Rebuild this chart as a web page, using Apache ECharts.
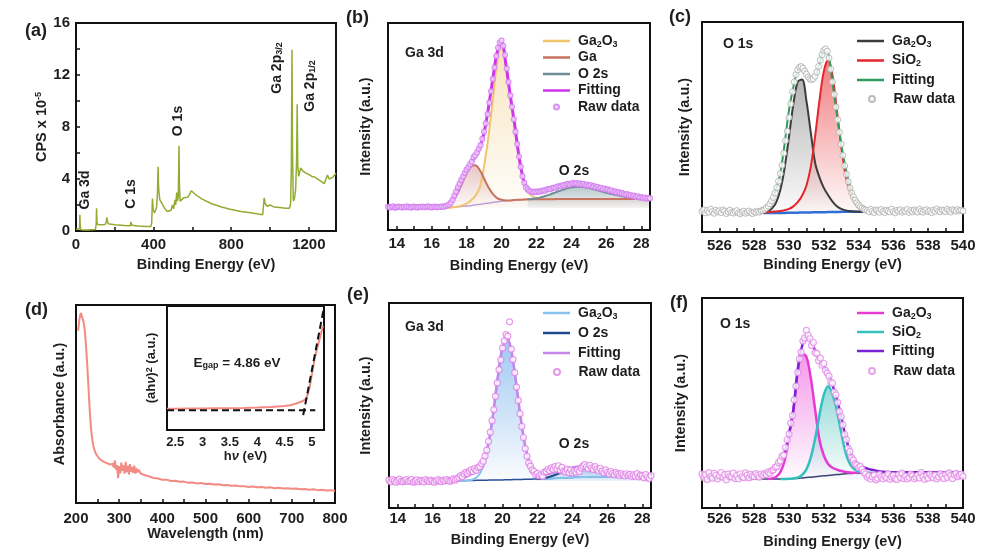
<!DOCTYPE html>
<html>
<head>
<meta charset="utf-8">
<script src="https://cdn.jsdelivr.net/npm/echarts@6/dist/echarts.min.js"></script>
<style>
html, body { margin: 0; padding: 0; background: #fff; }
#chart { width: 1008px; height: 557px; }
</style>
</head>
<body>
<div id="chart"></div>
<script>
// (a) survey spectrum
var aEnergy = [0, 10, 18, 20, 22, 26, 40, 60, 80, 100, 104, 106, 108, 112, 130, 150, 156, 159, 162, 166, 200, 250, 280, 283, 285, 288, 320, 360, 385, 390, 394, 398, 405, 415, 420, 423, 426, 432, 440, 455, 470, 480, 490, 497, 503, 510, 514, 519, 523, 527, 529, 531, 533, 537, 545, 555, 565, 575, 585, 594, 600, 620, 650, 700, 750, 800, 850, 900, 940, 962, 966, 970, 975, 985, 1000, 1020, 1050, 1080, 1100, 1106, 1110, 1113, 1116, 1120, 1126, 1132, 1137, 1140, 1143, 1148, 1152, 1158, 1170, 1185, 1200, 1215, 1230, 1250, 1265, 1280, 1290, 1296, 1300, 1305, 1315, 1325, 1340];
var aCps = [0.15, 0.12, 0.15, 1.25, 0.3, 0.1, 0.08, 0.08, 0.1, 0.12, 0.5, 1.75, 0.7, 0.5, 0.48, 0.5, 0.7, 1.05, 0.75, 0.55, 0.48, 0.42, 0.4, 0.7, 0.85, 0.45, 0.38, 0.35, 0.35, 0.6, 2.5, 1.6, 1.4, 1.8, 3.0, 4.95, 3.2, 2.4, 2.2, 1.8, 1.5, 1.45, 1.6, 2.0, 1.7, 2.4, 2.0, 2.95, 2.3, 2.6, 4.5, 6.55, 3.5, 2.3, 2.45, 2.55, 2.45, 2.6, 2.8, 3.1, 3.0, 2.75, 2.45, 2.1, 1.85, 1.65, 1.5, 1.4, 1.3, 1.25, 1.9, 2.55, 2.1, 1.9, 2.0, 1.85, 1.8, 1.75, 1.75, 2.1, 5.0, 13.95, 6.0, 2.3, 2.5, 3.2, 5.5, 9.75, 5.0, 4.2, 4.5, 4.85, 4.6, 4.45, 4.35, 4.2, 4.15, 3.95, 3.8, 3.65, 3.6, 4.3, 4.35, 4.0, 3.95, 4.15, 4.45];
var aYLabels = [0, 4, 8, 12, 16];
var aYTicks = [0, 2, 4, 6, 8, 10, 12, 14, 16];
var aXLabels = [0, 400, 800, 1200];
var aXTicks = [0, 200, 400, 600, 800, 1000, 1200];

// Ga 3d panels (b, e): fitted curves on 0.25 eV steps from 13.5, raw data on 0.1 eV steps
var gaLabels = [14, 16, 18, 20, 22, 24, 26, 28];
var gaTicks = [14, 15, 16, 17, 18, 19, 20, 21, 22, 23, 24, 25, 26, 27, 28];

var bBackground = [10.6, 10.6, 10.6, 10.6, 10.6, 10.6, 10.6, 10.6, 10.6, 10.6, 10.6, 10.6, 10.6, 10.6,
  10.8, 11.0, 11.2, 11.4, 11.6, 11.8, 12.1, 12.4, 12.7, 13.0, 13.3, 13.6, 13.9, 14.1, 14.3, 14.5, 14.6, 14.7, 14.8,
  14.8, 14.8, 14.9, 14.9, 14.9, 14.9, 15.0, 15.0, 15.0, 15.0, 15.0, 15.0, 15.0, 15.0, 15.0, 15.0, 15.0, 15.0, 15.0, 15.0, 15.0, 15.0, 15.0, 15.0, 15.0, 15.0, 15.0, 15.0];
var bGa2O3 = [10.6, 10.6, 10.6, 10.6, 10.6, 10.6, 10.6, 10.6, 10.6, 10.6, 10.6, 10.6, 10.6, 10.6,
  10.8, 11.0, 11.4, 11.9, 12.8, 14.3, 16.5, 20.5, 31, 45, 63, 81, 90, 79.5, 64.5, 50.5, 35, 24, 18.8,
  16.3, 15.4, 15.1, 15.0, 15.0, 15.0, 15.0, 15.0, 15.0, 15.0, 15.0, 15.0, 15.0, 15.0, 15.0, 15.0, 15.0, 15.0, 15.0, 15.0, 15.0, 15.0, 15.0, 15.0, 15.0, 15.0, 15.0, 15.0];
var bGa = [null, null, null, null, null, null, null, null, null, null, null, null,
  10.8, 11.2, 12.3, 14.5, 18.1, 22.7, 27.4, 30.7, 31.3, 29.0, 24.9, 20.6, 17.4, 15.4, 14.6, 14.3, 14.3, 14.5, 14.6, 14.7, 14.8,
  14.8, 14.8, 14.9, 14.9, 14.9, 14.9, 15.0, 15.0, 15.0, 15.0, 15.0, 15.0, 15.0, 15.0, 15.0, 15.0, 15.0, 15.0, 15.0, 15.0, 15.0, 15.0, 15.0, 15.0, 15.0, 15.0, 15.0, 15.0];
var bO2s = [null, null, null, null, null, null, null, null, null, null, null, null, null, null, null, null,
  null, null, null, null, null, null, null, null, null, null, null, null, null, null, null, null,
  14.8, 15.0, 15.3, 15.8, 16.4, 17.1, 17.9, 18.7, 19.4, 20.1, 20.6, 20.9, 20.9, 20.7, 20.3, 19.8, 19.2, 18.6, 18.0, 17.5, 17.0, 16.6, 16.2, 15.9, 15.6, 15.4, 15.3, 15.2, 15.1];
var bFit = [11.1, 11.1, 11.1, 11.1, 11.1, 11.1, 11.1, 11.1, 11.1, 11.1, 11.1, 11.2, 11.3, 11.6,
  12.3, 15.5, 20.5, 25, 29, 32.3, 35.8, 39.8, 47, 59, 73, 86, 91, 80, 65, 51, 35.5, 24.5, 19.6, 18.5, 18.4, 18.6, 19.1, 19.8, 20.4, 21, 21.5, 21.9, 22.2, 22.3, 22.1, 21.8, 21.4, 21, 20.5, 20, 19.5, 19, 18.5, 18, 17.4, 16.9, 16.5, 16.1, 15.8, 15.5, 15.3];
var bRaw = [11.2, 10.9, 11.1, 11.4, 10.8, 11.0, 11.3, 11.1, 10.9, 11.2,
  11.0, 11.4, 11.1, 10.8, 11.2, 11.3, 11.0, 10.9, 11.2, 11.1,
  11.3, 11.0, 11.2, 11.4, 11.1, 10.9, 11.2, 11.3, 11.0, 11.2,
  11.1, 11.4, 11.2, 11.6, 11.9,
  12.3, 13.2, 14.6, 16.6, 18.5, 20.6, 22.4, 24.2, 25.8, 27.6,
  29.2, 30.4, 31.8, 33.0, 35.2, 36.1, 37.5, 39.2, 41.0, 44.0,
  47.5, 51.5, 56.0, 61.5, 67.0, 73.0, 78.5, 84.0, 88.0, 90.5,
  91.5, 89.0, 84.5, 78.0, 71.5, 65.0, 59.5, 53.5, 47.5, 41.5,
  35.5, 30.5, 26.0, 22.8, 20.6, 19.6, 18.8, 18.6, 18.2, 18.5,
  18.4, 18.7, 18.5, 18.9, 19.2, 19.0, 19.6, 19.8, 19.7, 20.3,
  20.5, 20.4, 21.0, 21.2, 21.1, 21.7, 21.5, 22.0, 22.3, 21.9,
  22.4, 22.8, 22.3, 22.6, 22.1, 22.5, 22.0, 22.3, 21.6, 21.9,
  21.4, 21.7, 21.0, 21.2, 20.6, 20.9, 20.2, 20.4, 19.8, 20.0,
  19.5, 19.6, 19.0, 19.2, 18.6, 18.7, 18.1, 18.3, 17.7, 17.9,
  17.4, 17.1, 17.3, 16.7, 16.9, 16.4, 16.6, 16.0, 16.3, 15.7,
  15.9, 15.4, 15.7, 15.2, 15.5, 15.3];

var eBackground = [13.2, 13.2, 13.2, 13.2, 13.2, 13.2, 13.2, 13.2, 13.2, 13.2, 13.2, 13.2,
  13.2, 13.2, 13.3, 13.3, 13.3, 13.3,
  13.4, 13.4, 13.5, 13.5, 13.5, 13.6, 13.6, 13.7, 13.7, 13.8, 13.8, 13.9, 13.9, 14.0, 14.0, 14.1, 14.1, 14.2, 14.3, 14.4, 14.5, 14.6, 14.7, 14.8, 14.9, 15.0, 15.1, 15.1, 15.2, 15.2, 15.3, 15.3, 15.3, 15.4, 15.4, 15.4, 15.4, 15.4, 15.5, 15.5, 15.5, 15.5, 15.5];
var eGa2O3 = [13.2, 13.2, 13.2, 13.2, 13.2, 13.2, 13.2, 13.2, 13.2, 13.2, 13.2, 13.2,
  13.2, 13.2, 13.3, 13.3, 13.3, 13.3,
  13.5, 13.8, 14.9, 17.5, 23.2, 33.5, 48.3, 65.1, 78.4, 83.1, 76.8, 62.6, 46.0, 31.9, 22.5, 17.6, 15.3, 14.6, 14.4,
  14.4, 14.5, 14.6, 14.7, 14.8, 14.9, 15.0, 15.1, 15.1, 15.2, 15.2, 15.3, 15.3, 15.3, 15.4, 15.4, 15.4, 15.4, 15.4, 15.5, 15.5, 15.5, 15.5, 15.5];
var eO2s = [null, null, null, null, null, null, null, null, null, null, null, null, null, null, null, null, null,
  null, null, null, null, null, null, null, null, null, null, null, null, null, null, null, null, null,
  14.2, 14.4, 14.8, 15.4, 16.1, 16.9, 17.7, 18.4, 19.0, 19.4, 19.6, 19.5, 19.2, 18.7, 18.1, 17.5, 16.9, 16.4, 16.0, 15.7, 15.5, 15.5, 15.5, 15.5, 15.5, 15.5, 15.5];
var eFit = [13.2, 13.2, 13.2, 13.2, 13.2, 13.2, 13.2, 13.2, 13.2, 13.2, 13.2, 13.2, 13.3, 13.3, 13.5, 13.7, 14.0,
  14.6, 15.5, 16.7, 18.2, 20.5, 25.0, 34.0, 48.5, 65.3, 78.6, 83.3, 77.0, 62.9, 46.5, 32.5, 23.3, 18.6, 16.6, 16.1, 16.3, 16.8, 17.4, 18.1, 18.8, 19.4, 19.8, 20.1, 20.2, 20.1, 19.8, 19.3, 18.7, 18.1, 17.5, 17.0, 16.6, 16.2, 15.9, 15.7, 15.6, 15.6, 15.5, 15.5, 15.5];
var eRaw = [13.6, 12.8, 13.9, 13.2, 12.6, 13.5, 14.1, 13.0, 12.7, 13.4,
  13.8, 12.9, 13.3, 14.0, 12.6, 13.1, 13.7, 12.8, 13.5, 13.2,
  12.7, 13.9, 13.4, 12.9, 13.6, 13.0, 12.5, 13.3, 13.8, 13.1,
  12.8, 13.6, 13.2, 13.9, 13.4, 13.0, 13.7, 14.2, 13.6, 14.4,
  14.9, 15.8, 15.2, 16.6, 17.4, 16.8, 17.9, 18.6, 17.8, 19.2,
  18.4, 19.8, 20.2, 21.6, 22.8, 25.4, 28.2, 32.5, 37.0, 42.6,
  48.0, 54.5, 61.0, 67.5, 72.2, 78.0, 81.5, 84.6, 83.8, 90.8,
  77.5, 72.4, 66.0, 59.0, 52.5, 46.0, 39.8, 34.4, 29.0, 25.2,
  22.0, 20.4, 18.6, 17.8, 16.4, 16.9, 15.6, 16.2, 15.4, 17.5,
  17.8, 18.9, 18.2, 19.6, 18.8, 20.2, 19.0, 20.6, 18.4, 19.8,
  18.0, 17.6, 18.8, 17.3, 18.6, 17.2, 18.1, 17.5, 18.7, 17.8,
  19.5, 20.4, 21.2, 20.0, 19.2, 20.8, 19.6, 18.8, 20.2, 19.0,
  18.2, 19.4, 18.0, 17.2, 18.6, 17.4, 16.6, 17.8, 16.9, 16.2,
  17.3, 16.5, 15.8, 16.8, 16.1, 15.6, 16.7, 15.9, 16.4, 15.4,
  16.2, 15.5, 16.8, 15.2, 16.0, 15.6, 14.8, 16.3, 15.0, 14.4, 15.8];

// O 1s panels (c, f): fitted curves on 0.25 eV steps from 525, raw data on 0.1 eV steps
var oLabels = [526, 528, 530, 532, 534, 536, 538, 540];
var oTicks = [526, 527, 528, 529, 530, 531, 532, 533, 534, 535, 536, 537, 538, 539];

var cBackground = [null, null, null, null, null, null, null, null, null, null, null, null, null, null,
  9.0, 9.0, 9.0, 9.1, 9.1, 9.1, 9.2, 9.2, 9.2, 9.3, 9.3, 9.3, 9.4, 9.4, 9.4, 9.5, 9.5, 9.5, 9.6, 9.6, 9.6, 9.7, 9.7, 9.7,
  null, null, null, null, null, null, null, null, null, null, null, null, null, null, null, null, null, null, null, null, null, null, null];
var cGa2O3 = [null, null, null, null, null, null, null, null, null, null, null, null, null, null,
  9.3, 9.7, 11.0, 13.9, 20.0, 30.6, 45.4, 60.9, 71.5, 72.6, 62.5, 47.5, 33, 26, 21, 17.5, 14.5, 12.3, 11.0, 10.3, 10.0, 9.8, 9.7, 9.7,
  null, null, null, null, null, null, null, null, null, null, null, null, null, null, null, null, null, null, null, null, null, null, null];
var cSiO2 = [null, null, null, null, null, null, null, null, null, null, null, null, null, null,
  9.2, 9.4, 9.7, 9.8, 10.0, 10.4, 11.0, 12.2, 14.2, 17.3, 22, 31, 45.5, 62.5, 76.5, 82, 74.5, 58, 41, 27, 19.5, 14.5, 12, 10.8,
  null, null, null, null, null, null, null, null, null, null, null, null, null, null, null, null, null, null, null, null, null, null, null];
var cFit = [9.6, 9.6, 9.6, 9.6, 9.6, 9.6, 9.6, 9.6, 9.6, 9.6, 9.6, 9.6, 9.6,
  9.7, 10.0, 11.5, 14.5, 20, 28, 42, 58, 69, 77, 78, 75.5, 72.8, 73.5, 80, 86.5, 85, 71, 56, 42, 30.5, 22, 16, 12.8, 11.3, 10.5, 10.1,
  10.0, 10.0, 10.0, 10.0, 10.0, 10.0, 10.0, 10.0, 10.0, 10.0, 10.0, 10.0, 10.0, 10.0, 10.0, 10.0, 10.0, 10.0, 10.0, 10.0, 10.0];
var cRaw = [9.8, 10.6, 9.1, 10.2, 9.4, 10.9, 9.7, 8.9, 10.3, 9.6,
  10.1, 9.2, 10.5, 9.9, 8.8, 9.6, 10.4, 9.3, 9.0, 9.8,
  10.2, 9.1, 8.7, 9.5, 9.9, 8.9, 9.4, 10.0, 9.2, 8.8,
  9.6, 9.3, 9.9, 9.5, 10.1,
  10.3, 10.8, 11.4, 12.3, 13.4, 14.8, 16.5, 18.6, 21.2, 24.2,
  27.8, 31.8, 37.5, 43.5, 48.0, 54.5, 61.0, 66.8, 71.5, 75.0,
  77.2, 78.5, 78.8, 78.0, 76.6, 75.2, 73.8, 72.9, 72.6, 73.0,
  74.2, 76.2, 78.8, 81.8, 84.5, 86.5, 87.2, 86.0, 82.8, 77.5,
  71.5, 65.5, 59.5, 53.5, 47.5, 41.8, 36.5, 31.5, 27.5, 24.0,
  21.0, 18.6, 16.8, 15.2, 13.9, 12.8, 12.0, 11.4, 10.9, 10.5,
  10.2, 9.6, 10.8, 9.9, 9.3, 10.5, 10.1, 9.4, 10.7, 9.8,
  9.2, 10.4, 10.0, 9.5, 10.9, 9.7, 9.1, 10.3, 9.9, 10.6,
  9.4, 10.1, 9.8, 10.7, 9.3, 10.2, 9.6, 10.5, 10.0, 9.5,
  10.8, 9.9, 9.4, 10.3, 10.6, 9.7, 10.1, 9.2, 10.4, 9.8,
  10.9, 10.0, 9.6, 10.5, 10.2, 9.7, 10.8, 10.1, 9.5, 10.6,
  10.3, 9.9, 10.7, 10.2, 10.4, 10.0];

var fBackground = [13.8, 13.8, 13.8, 13.8, 13.8, 13.8, 13.8, 13.8, 13.8, 13.8, 13.8, 13.8, 13.8, 13.8, 13.8, 13.8, 13.8, 13.8, 13.8, 13.8,
  13.9, 14.0, 14.1, 14.3, 14.5, 14.7, 14.9, 15.1, 15.3, 15.5, 15.7, 15.9, 16.1, 16.3, 16.4, 16.5, 16.6, 16.7, 16.7,
  16.8, 16.8, 16.8, 16.8, 16.8, 16.8, 16.8, 16.8, 16.8, 16.8, 16.8, 16.8, 16.8, 16.8, 16.8, 16.8, 16.8, 16.8, 16.8, 16.8, 16.8, 16.8];
var fGa2O3 = [null, null, null, null, null, null, null, null, null, null, null, null, null, null, null,
  13.8, 14.0, 14.8, 17.1, 22.6, 35, 47, 64.4, 73.5, 72, 62, 47, 32.5, 25, 21, 19.2, 18.3, 17.6, 17.2, 16.9, 16.8, 16.7,
  null, null, null, null, null, null, null, null, null, null, null, null, null, null, null, null, null, null, null, null, null, null, null, null];
var fSiO2 = [null, null, null, null, null, null, null, null, null, null, null, null, null, null, null, null, null, null,
  13.8, 13.8, 13.9, 14.1, 14.5, 15.7, 18.4, 24.0, 33.0, 44.2, 53.9, 58.0, 54.3, 46.5, 36.0, 26.5, 21.0, 18.5, 17.4, 17.0, 16.8, 16.8,
  null, null, null, null, null, null, null, null, null, null, null, null, null, null, null, null, null, null, null, null, null];
var fFit = [14.8, 14.8, 14.8, 14.8, 14.8, 14.8, 14.8, 14.8, 14.8, 14.8, 14.8, 14.8,
  14.9, 15.0, 15.3, 15.8, 17.0, 18.8, 21.5, 26.5, 35, 46.5, 66, 77, 82, 79.5, 75, 70.5, 67.5, 64, 58.5, 52, 43.5, 34, 27, 22.5, 20.5, 19.5, 18.8, 18.2, 17.8, 17.4, 17.2, 17.1,
  17.0, 17.0, 17.0, 17.0, 17.0, 17.0, 17.0, 17.0, 17.0, 17.0, 17.0, 17.0, 17.0, 17.0, 17.0, 17.0, 17.0];
var fRaw = [16.2, 14.4, 15.8, 13.6, 16.8, 15.1, 14.2, 16.5, 15.6, 13.9,
  15.4, 16.9, 14.6, 15.9, 13.4, 16.1, 15.2, 14.8, 16.6, 14.0,
  15.5, 13.8, 16.3, 15.0, 14.5, 16.7, 15.7, 14.3, 16.0, 15.3,
  14.9, 16.4, 15.6, 14.7, 16.2,
  15.6, 16.4, 15.9, 17.2, 16.6, 17.8, 18.2, 19.4, 19.8, 21.6,
  22.4, 24.6, 25.2, 28.8, 32.5, 35.2, 40.4, 44.0, 51.5, 58.0,
  64.5, 71.0, 74.2, 79.5, 81.0, 84.6, 82.2, 80.6, 77.4, 78.8,
  74.0, 73.6, 70.2, 71.4, 68.0, 68.8, 65.6, 64.2, 62.8, 60.0,
  59.4, 55.2, 53.8, 50.2, 46.0, 43.4, 39.6, 35.0, 32.6, 28.4,
  26.8, 24.0, 22.8, 21.0, 20.4, 19.2, 19.8, 18.4, 17.0, 16.2,
  14.6, 15.4, 13.8, 14.9, 15.8, 13.5, 14.2, 16.0, 14.7, 13.9,
  15.2, 14.4, 16.3, 13.7, 14.8, 15.5, 14.1, 13.6, 15.9, 14.5,
  16.6, 14.0, 15.1, 13.8, 14.6, 16.2, 15.3, 13.9, 14.7, 15.6,
  14.3, 16.8, 14.9, 13.7, 15.4, 14.2, 16.1, 15.0, 14.4, 15.7,
  13.8, 14.8, 16.4, 15.2, 14.1, 15.9, 14.6, 16.7, 15.3, 14.0,
  15.8, 16.5, 14.9, 15.5, 16.2, 15.0];

// (d) absorbance and Tauc inset
var dWavelength = [205, 208, 211, 214, 217, 220, 223, 226, 229, 232, 235, 238, 241, 244, 247, 250, 255, 260, 265, 270, 275, 280, 282.5, 285, 287.5, 290, 292.5, 295, 297.5, 300, 302.5, 305, 307.5, 310, 312.5, 315, 317.5, 320, 322.5, 325, 327.5, 330, 332.5, 335, 337.5, 340, 342.5, 345, 350, 355, 360, 370, 380, 390, 400, 410, 420, 430, 440, 450, 460, 470, 480, 490, 500, 510, 520, 530, 540, 550, 560, 570, 580, 590, 600, 610, 620, 630, 640, 650, 660, 670, 680, 690, 700, 710, 720, 730, 740, 750, 760, 770, 780, 790, 800];
var dAbsorbance = [87, 93, 96, 95, 92, 88, 80, 70, 58, 46, 37, 31.5, 28, 26, 24.5, 23.5, 22.2, 21.4, 20.8, 20.3, 19.8, 19.4, 18.6, 19.8, 17.9, 21.5, 16.8, 19.2, 12.5, 18.6, 15.0, 20.4, 16.2, 19.0, 14.8, 20.8, 15.6, 18.8, 14.4, 19.6, 15.8, 18.2, 15.2, 18.9, 14.9, 17.6, 15.4, 16.8, 14.9, 14.4, 14.0,
  13.4, 12.6, 12.4, 11.7, 11.8, 11.1, 11.2, 10.7, 10.8, 10.2, 10.4, 9.9, 10.1, 9.6, 9.7, 9.3, 9.5, 9.0, 9.1, 8.7, 8.8, 8.4, 8.5, 8.1, 8.3, 7.9, 8.1, 7.7, 7.9, 7.5, 7.7, 7.3, 7.5, 7.2, 7.3, 6.9, 7.1, 6.7, 6.9, 6.5, 6.7, 6.3, 6.5, 6.1];
var dLabels = [200, 300, 400, 500, 600, 700, 800];
var dTicks = [250, 300, 350, 400, 450, 500, 550, 600, 650, 700, 750];

var taucEnergy = [2.35, 2.5, 2.75, 3.0, 3.25, 3.5, 3.75, 4.0, 4.25, 4.5, 4.6, 4.7, 4.8, 4.85, 4.9, 4.95, 5.0, 5.05, 5.1, 5.15, 5.2];
var taucValue = [17.2, 17.2, 17.3, 17.4, 17.5, 17.6, 17.8, 18.1, 18.6, 19.4, 20.0, 21.2, 22.8, 23.8, 25.5, 33, 45, 57.5, 67, 75, 84];
var baseLineX = [2.35, 5.06];
var baseLineY = [16, 16];
var tangentX = [4.84, 5.22];
var tangentY = [12, 99];
var taucLabels = [2.5, 3, 3.5, 4, 4.5, 5];
var taucTicks = [2.5, 2.75, 3, 3.25, 3.5, 3.75, 4, 4.25, 4.5, 4.75, 5];

var FONT = 'Liberation Sans, Arial, sans-serif';
var INK = '#1e1e1e';

function evenly(start, step, n) {
  var out = [];
  for (var i = 0; i < n; i++) out.push(+(start + i * step).toFixed(2));
  return out;
}
function pairs(xs, ys) {
  return xs.map(function (x, i) { return [x, ys[i] == null ? '-' : ys[i]]; });
}
function fade(rgb, a0, a1) {
  return new echarts.graphic.LinearGradient(0, 0, 0, 1, [
    {offset: 0, color: 'rgba(' + rgb + ',' + a0 + ')'},
    {offset: 1, color: 'rgba(' + rgb + ',' + a1 + ')'}
  ]);
}

var gaFine = evenly(13.5, 0.25, 61), gaRawX = evenly(13.5, 0.1, 151);
var oFine = evenly(525, 0.25, 61), oRawX = evenly(525, 0.1, 151);

var RICH = {
  s: {fontFamily: FONT, fontWeight: 'bold', fontSize: 9, fill: INK, color: INK, verticalAlign: 'bottom', lineHeight: 8},
  u: {fontFamily: FONT, fontWeight: 'bold', fontSize: 9, fill: INK, color: INK, verticalAlign: 'top', lineHeight: 8},
  i: {fontFamily: FONT, fontWeight: 'bold', fontStyle: 'italic', fontSize: 13, fill: INK, color: INK}
};

var LABELS = {
  'b-Ga2O3': 'Ga{s|2}O{s|3}', 'b-Ga': 'Ga', 'b-O2s': 'O 2s', 'b-Fit': 'Fitting', 'b-Raw': 'Raw data',
  'c-Ga2O3': 'Ga{s|2}O{s|3}', 'c-SiO2': 'SiO{s|2}', 'c-Fit': 'Fitting', 'c-Raw': 'Raw data',
  'e-Ga2O3': 'Ga{s|2}O{s|3}', 'e-O2s': 'O 2s', 'e-Fit': 'Fitting', 'e-Raw': 'Raw data',
  'f-Ga2O3': 'Ga{s|2}O{s|3}', 'f-SiO2': 'SiO{s|2}', 'f-Fit': 'Fitting', 'f-Raw': 'Raw data'
};

// grids: a, b, c, d, inset, e, f
var grids = [
  {left: 76, top: 23, width: 260, height: 208},
  {left: 388, top: 23, width: 262, height: 207},
  {left: 702, top: 22, width: 261, height: 210},
  {left: 76, top: 305, width: 259, height: 198},
  {left: 167, top: 306, width: 157, height: 124, backgroundColor: '#fff'},
  {left: 389, top: 303, width: 262, height: 205},
  {left: 702, top: 298, width: 261, height: 210}
].map(function (g) {
  return Object.assign({show: true, borderColor: '#111', borderWidth: 2, containLabel: false, z: 3}, g);
});

function xAx(gi, min, max, labels, ticks, name, gap, opt) {
  opt = opt || {};
  return {
    type: 'value', gridIndex: gi, min: min, max: max,
    name: name, nameLocation: 'middle', nameGap: gap,
    nameTextStyle: {fontFamily: FONT, fontWeight: 'bold', fontSize: opt.nameSize || 14.5, color: INK, rich: RICH},
    axisLine: {show: false}, splitLine: {show: false},
    axisTick: {show: true, inside: true, length: 4, customValues: ticks, lineStyle: {color: '#111', width: 1.5}},
    axisLabel: {customValues: labels, margin: opt.margin || 6, fontFamily: FONT, fontWeight: 'bold', fontSize: opt.size || 15, color: INK,
      formatter: function (v) { return String(v); }}
  };
}
function yAx(gi, min, max, name, gap, opt) {
  opt = opt || {};
  return {
    type: 'value', gridIndex: gi, min: min, max: max,
    name: name, nameLocation: 'middle', nameGap: gap,
    nameTextStyle: {fontFamily: FONT, fontWeight: 'bold', fontSize: opt.nameSize || 14.5, color: INK, rich: RICH},
    axisLine: {show: false}, splitLine: {show: false},
    axisTick: opt.ticks ? {show: true, inside: true, length: 4, customValues: opt.ticks, lineStyle: {color: '#111', width: 1.5}} : {show: false},
    axisLabel: opt.labels ? {customValues: opt.labels, margin: 6, fontFamily: FONT, fontWeight: 'bold', fontSize: 15, color: INK} : {show: false}
  };
}

var xAxes = [
  xAx(0, 0, 1340, aXLabels, aXTicks, 'Binding Energy (eV)', 26),
  xAx(1, 13.5, 28.5, gaLabels, gaTicks, 'Binding Energy (eV)', 28),
  xAx(2, 525, 540, oLabels, oTicks, 'Binding Energy (eV)', 25),
  xAx(3, 200, 800, dLabels, dTicks, 'Wavelength (nm)', 20, {margin: 8}),
  xAx(4, 2.35, 5.22, taucLabels, taucTicks, 'h{i|ν} (eV)', 19, {nameSize: 13, size: 13, margin: 6}),
  xAx(5, 13.5, 28.5, gaLabels, gaTicks, 'Binding Energy (eV)', 24, {margin: 3}),
  xAx(6, 525, 540, oLabels, oTicks, 'Binding Energy (eV)', 26, {margin: 3})
];
var yAxes = [
  yAx(0, 0, 16, 'CPS x 10{u|-5}', 25, {labels: aYLabels, ticks: aYTicks}),
  yAx(1, 0, 100, 'Intensity (a.u.)', 15),
  yAx(2, 0, 100, 'Intensity (a.u.)', 10),
  yAx(3, 0, 100, 'Absorbance (a.u.)', 9),
  yAx(4, 0, 100, '(ah{i|ν}){u|2} (a.u.)', 9, {nameSize: 13}),
  yAx(5, 0, 100, 'Intensity (a.u.)', 16),
  yAx(6, 0, 100, 'Intensity (a.u.)', 14)
];

function curve(name, gi, data, color, width, fill, origin, z) {
  var s = {
    name: name, type: 'line', xAxisIndex: gi, yAxisIndex: gi, data: data,
    symbol: 'none', smooth: 0.35, connectNulls: false,
    lineStyle: {color: color, width: width}, itemStyle: {color: color}, z: z || 2
  };
  if (fill) s.areaStyle = {color: fill, origin: origin};
  return s;
}
function dots(name, gi, data, color, size, inner, bw) {
  return {
    name: name, type: 'scatter', xAxisIndex: gi, yAxisIndex: gi, data: data,
    symbol: 'circle', symbolSize: size,
    itemStyle: {color: inner || '#fff', borderColor: color, borderWidth: bw || 1.2}, z: 4
  };
}
function plain(gi, xs, ys, color, width, dashed) {
  return {
    type: 'line', xAxisIndex: gi, yAxisIndex: gi, data: pairs(xs, ys), symbol: 'none',
    lineStyle: {color: color, width: width, type: dashed ? [7, 4] : 'solid'}, z: 3
  };
}

var series = [
  // (a)
  plain(0, aEnergy, aCps, '#92AC32', 1.5),
  // (b)
  curve('b-bg', 1, pairs(gaFine, bBackground), '#B393DE', 1.3, null, null, 1),
  curve('b-Ga2O3', 1, pairs(gaFine, bGa2O3), '#EFC56E', 2, fade('240,200,120', 0.7, 0.04), 10.6),
  curve('b-Ga', 1, pairs(gaFine, bGa), '#C8735F', 2, fade('200,120,115', 0.6, 0.04), 10.6),
  curve('b-O2s', 1, pairs(gaFine, bO2s), '#6E8E98', 2, fade('110,140,150', 0.7, 0.08), 10.6),
  curve('b-Fit', 1, pairs(gaFine, bFit), '#CF35EC', 3, null, null, 3),
  dots('b-Raw', 1, pairs(gaRawX, bRaw), '#D27AF0', 5, '#F4DCFB'),
  // (c)
  curve('c-bg', 2, pairs(oFine, cBackground), '#2F6FD8', 2.5, null, null, 2),
  curve('c-Ga2O3', 2, pairs(oFine, cGa2O3), '#3C3C3C', 2, fade('105,105,105', 0.7, 0.03), 9),
  curve('c-SiO2', 2, pairs(oFine, cSiO2), '#E5262C', 2, fade('230,35,40', 0.85, 0.03), 9),
  curve('c-Fit', 2, pairs(oFine, cFit), '#2F9C5C', 2, null, null, 3),
  dots('c-Raw', 2, pairs(oRawX, cRaw), '#ABABAB', 6, '#fff', 1),
  // (d)
  plain(3, dWavelength, dAbsorbance, '#F28B84', 2),
  plain(4, taucEnergy, taucValue, '#F28B84', 2),
  plain(4, baseLineX, baseLineY, '#111', 2, true),
  plain(4, tangentX, tangentY, '#111', 2, true),
  // (e)
  curve('e-bg', 5, pairs(gaFine, eBackground), '#2B4C98', 1.5, null, null, 1),
  curve('e-Ga2O3', 5, pairs(gaFine, eGa2O3), '#86C3F0', 2, fade('70,150,230', 0.75, 0.04), 13.2),
  curve('e-O2s', 5, pairs(gaFine, eO2s), '#1D4A8C', 2, fade('60,130,215', 0.7, 0.1), 13.2),
  curve('e-Fit', 5, pairs(gaFine, eFit), '#C686EC', 2.5, null, null, 3),
  dots('e-Raw', 5, pairs(gaRawX, eRaw), '#E07FE6', 6),
  // (f)
  curve('f-bg', 6, pairs(oFine, fBackground), '#33406E', 1.5, null, null, 1),
  curve('f-Ga2O3', 6, pairs(oFine, fGa2O3), '#E53AD4', 2.5, fade('235,60,215', 0.75, 0.03), 13.8),
  curve('f-SiO2', 6, pairs(oFine, fSiO2), '#33C0BE', 2.5, fade('50,185,180', 0.75, 0.03), 13.8),
  curve('f-Fit', 6, pairs(oFine, fFit), '#7A22D4', 2.5, null, null, 3),
  dots('f-Raw', 6, pairs(oRawX, fRaw), '#E38AE6', 6)
];

function legendBox(names, left, top, gap, itemH, icon) {
  return {
    orient: 'vertical', left: left, top: top, padding: 0, data: names,
    icon: icon, itemWidth: 27, itemHeight: itemH, itemGap: gap, selectedMode: false,
    formatter: function (n) { return LABELS[n]; },
    textStyle: {fontFamily: FONT, fontWeight: 'bold', fontSize: 14, color: INK, lineHeight: 16, padding: [0, 0, 0, 3], rich: RICH}
  };
}
var legends = [
  legendBox(['b-Ga2O3', 'b-Ga', 'b-O2s', 'b-Fit'], 543, 33, 0.5, 2.5, 'rect'),
  legendBox(['b-Raw'], 553, 99, 0, 5),
  legendBox(['c-Ga2O3', 'c-SiO2', 'c-Fit'], 857, 33, 3.5, 2.5, 'rect'),
  legendBox(['c-Raw'], 868, 91, 0, 6),
  legendBox(['e-Ga2O3', 'e-O2s', 'e-Fit'], 543, 305, 4, 2.5, 'rect'),
  legendBox(['e-Raw'], 553, 364, 0, 6),
  legendBox(['f-Ga2O3', 'f-SiO2', 'f-Fit'], 857, 305, 3, 2.5, 'rect'),
  legendBox(['f-Raw'], 868, 363, 0, 6)
];

function txt(x, y, text, opt) {
  opt = opt || {};
  return {
    type: 'text', x: x, y: y, rotation: opt.rot || 0, z: 100,
    style: {text: text, fill: INK, fontFamily: FONT, fontWeight: 'bold', fontSize: opt.size || 14,
      align: opt.align || 'left', verticalAlign: 'middle', rich: RICH}
  };
}
var UP = Math.PI / 2;
var graphics = [
  txt(25, 31, '(a)', {size: 18}), txt(346, 18, '(b)', {size: 18}), txt(669, 17, '(c)', {size: 18}),
  txt(25, 310, '(d)', {size: 18}), txt(347, 295, '(e)', {size: 18}), txt(670, 303, '(f)', {size: 18}),
  txt(85, 190, 'Ga 3d', {rot: UP, align: 'center'}),
  txt(131, 194, 'C 1s', {rot: UP, align: 'center'}),
  txt(178, 121, 'O 1s', {rot: UP, align: 'center'}),
  txt(277, 68, 'Ga 2p{s|3/2}', {rot: UP, align: 'center'}),
  txt(310, 86, 'Ga 2p{s|1/2}', {rot: UP, align: 'center'}),
  txt(405, 53, 'Ga 3d'), txt(574, 171, 'O 2s', {align: 'center'}),
  txt(723, 44, 'O 1s'),
  txt(405, 327, 'Ga 3d'), txt(574, 444, 'O 2s', {align: 'center'}),
  txt(720, 324, 'O 1s'),
  txt(237, 363, 'E{s|gap} = 4.86 eV', {align: 'center', size: 13.5})
];

var chart = echarts.init(document.getElementById('chart'), null, {renderer: 'canvas'});
chart.setOption({
  backgroundColor: '#fff',
  animation: false,
  tooltip: {show: false},
  grid: grids,
  xAxis: xAxes,
  yAxis: yAxes,
  legend: legends,
  series: series,
  graphic: graphics
});
</script>
</body>
</html>
